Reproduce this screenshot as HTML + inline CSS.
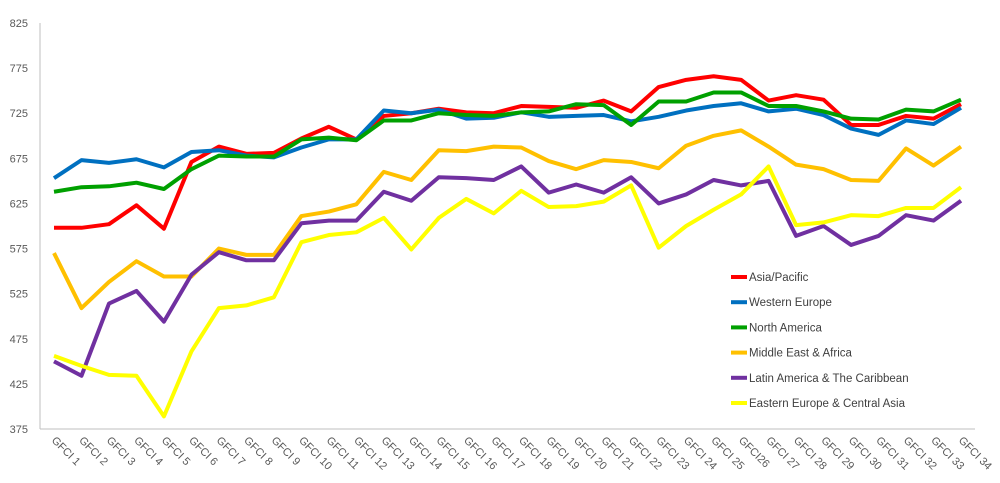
<!DOCTYPE html>
<html><head><meta charset="utf-8"><style>
body{margin:0;background:#fff;font-family:"Liberation Sans",sans-serif}
</style></head><body>
<svg id="chart" width="1000" height="478" xmlns="http://www.w3.org/2000/svg">
<line x1="40" y1="23" x2="40" y2="429" stroke="#bfbfbf" stroke-width="1"/>
<line x1="40" y1="429" x2="975" y2="429" stroke="#bfbfbf" stroke-width="1"/>
<g id="yticks"></g><g id="xticks"></g><g id="series"></g><g id="legend"></g>
</svg>
<script>
const categories = ["GFCI 1","GFCI 2","GFCI 3","GFCI 4","GFCI 5","GFCI 6","GFCI 7","GFCI 8","GFCI 9","GFCI 10","GFCI 11","GFCI 12","GFCI 13","GFCI 14","GFCI 15","GFCI 16","GFCI 17","GFCI 18","GFCI 19","GFCI 20","GFCI 21","GFCI 22","GFCI 23","GFCI 24","GFCI 25","GFCI26","GFCI 27","GFCI 28","GFCI 29","GFCI 30","GFCI 31","GFCI 32","GFCI 33","GFCI 34"];
const yTicks = [375,425,475,525,575,625,675,725,775,825];
const seriesNames = ["Asia/Pacific","Western Europe","North America","Middle East & Africa","Latin America & The Caribbean","Eastern Europe & Central Asia"];
const seriesColors = ["#ff0000","#0070c0","#00a000","#ffc000","#7030a0","#ffff00"];
const asiaPacific = [598,598,602,623,597,671,688,680,681,697,710,696,722,725,730,726,725,733,732,731,739,727,754,762,766,762,739,745,740,712,712,722,719,735];
const westernEurope = [653,673,670,674,665,682,684,678,676,687,696,696,728,725,729,719,720,726,721,722,723,716,721,728,733,736,727,730,723,708,701,717,713,731];
const northAmerica = [638,643,644,648,641,663,678,677,677,696,698,695,717,717,725,723,722,726,727,735,734,712,738,738,748,748,733,733,727,719,718,729,727,740];
const middleEast = [570,509,538,561,544,544,575,568,568,611,616,624,660,651,684,683,688,687,672,663,673,671,664,689,700,706,688,668,663,651,650,686,667,688];
const latinAmerica = [450,434,514,528,494,546,571,562,562,603,606,606,638,628,654,653,651,666,637,646,637,654,625,635,651,645,650,589,600,579,589,612,606,628];
const easternEurope = [456,445,435,434,389,461,509,512,521,582,590,593,609,574,609,630,614,639,621,622,627,645,576,600,618,635,666,601,604,612,611,620,620,643];
const allSeries = [asiaPacific,westernEurope,northAmerica,middleEast,latinAmerica,easternEurope];
const seriesKeys = ["asia-pacific","western-europe","north-america","middle-east-africa","latin-america","eastern-europe"];

const NS="http://www.w3.org/2000/svg";
const yMin=375,yMax=825,yTop=23,yBot=429,xFirst=54,xLast=961;
function yScale(v){return yBot-(v-yMin)/(yMax-yMin)*(yBot-yTop);}
function xScale(i){return xFirst+i*(xLast-xFirst)/(categories.length-1);}

const yg=document.getElementById('yticks');
yTicks.forEach(t=>{
  const tx=document.createElementNS(NS,'text');
  
  
  tx.setAttribute('x',28);tx.setAttribute('y',yScale(t)+4);
  tx.setAttribute('text-anchor','end');tx.setAttribute('font-size','11');tx.setAttribute('fill','#595959');
  tx.textContent=t;yg.appendChild(tx);
});
const xg=document.getElementById('xticks');
categories.forEach((c,i)=>{
  const x=xScale(i)-3,y=441;
  const tx=document.createElementNS(NS,'text');
  
  
  tx.setAttribute('x',x);tx.setAttribute('y',y);
  tx.setAttribute('font-size','11');tx.setAttribute('fill','#595959');
  tx.setAttribute('transform','rotate(45 '+x+' '+y+')');
  tx.textContent=c;xg.appendChild(tx);
});
const sg=document.getElementById('series');
allSeries.forEach((s,k)=>{
  const p=document.createElementNS(NS,'polyline');
  
  
  p.setAttribute('points',s.map((v,i)=>xScale(i)+','+yScale(v)).join(' '));
  p.setAttribute('fill','none');p.setAttribute('stroke',seriesColors[k]);
  p.setAttribute('stroke-width','4');p.setAttribute('stroke-linejoin','round');
  sg.appendChild(p);
});
const lg=document.getElementById('legend');
seriesNames.forEach((n,k)=>{
  const y=277+k*25.2;
  const l=document.createElementNS(NS,'line');
  
  
  l.setAttribute('x1',731);l.setAttribute('x2',747);l.setAttribute('y1',y);l.setAttribute('y2',y);
  l.setAttribute('stroke',seriesColors[k]);l.setAttribute('stroke-width','4');
  lg.appendChild(l);
  const t=document.createElementNS(NS,'text');
  
  
  t.setAttribute('x',749);t.setAttribute('y',y+4);t.setAttribute('font-size','11.5');t.setAttribute('fill','#404040');
  t.textContent=n;lg.appendChild(t);
});
</script>
</body></html>
